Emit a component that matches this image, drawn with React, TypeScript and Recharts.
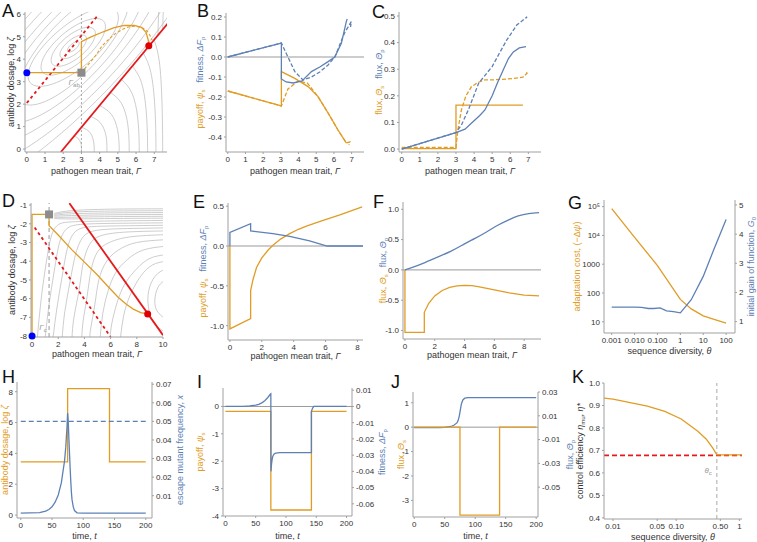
import React from 'react';
import { ComposedChart, Line, XAxis, YAxis, ReferenceLine, ReferenceDot, Label } from 'recharts';

const ORANGE = '#e19c24';
const BLUE = '#5e81b5';
const RED = '#e41a1c';
const FRAME = '#a0a0a0';
const CONTOUR = '#b8b8b8';
const TXT = '#333';
const FONT = '"Liberation Sans", Arial, Helvetica, sans-serif';

// ---------- panel A
const aRed = [[1.87, -0.13], [7.75, 5.6]];
const aRedDash = [[0, 2.05], [3.9, 5.95]];
const aPath = [[0, 3.4], [3, 3.4], [3, 4.78], [3.5, 4.98], [4.2, 5.22], [4.8, 5.4], [5.35, 5.5], [5.9, 5.5], [6.3, 5.42], [6.55, 5.2], [6.67, 4.85], [6.7, 4.62]];
const aPathDash = [[3, 3.4], [3.25, 3.65], [3.6, 3.98], [3.9, 4.3], [4.15, 4.6], [4.5, 4.88], [4.8, 5.1], [5.25, 5.32], [5.7, 5.45], [6.1, 5.45], [6.45, 5.35], [6.7, 5.15], [6.88, 4.85]];
const aLoops = [
  [[2.89, 4.78], [2.7, 4.8], [2.43, 4.67], [2.22, 4.47], [2.21, 4.32], [2.4, 4.3], [2.67, 4.43], [2.88, 4.63]],
  [[3.31, 5.07], [2.89, 5.11], [2.27, 4.82], [1.81, 4.38], [1.79, 4.04], [2.21, 3.99], [2.83, 4.28], [3.29, 4.72]],
  [[3.82, 5.41], [3.12, 5.47], [2.09, 4.99], [1.33, 4.26], [1.28, 3.69], [1.98, 3.63], [3.01, 4.11], [3.77, 4.84]],
  [[4.41, 5.81], [3.41, 5.87], [1.91, 5.16], [0.79, 4.09], [0.69, 3.29], [1.69, 3.23], [3.19, 3.94], [4.31, 5.01]],
  [[5.17, 6.32], [3.8, 6.38], [1.7, 5.37], [0.1, 3.87], [-0.07, 2.78], [1.3, 2.72], [3.4, 3.73], [5.0, 5.23]],
  [[5.71, 7.28], [3.93, 7.12], [1.34, 5.46], [-0.54, 3.26], [-0.61, 1.82], [1.17, 1.98], [3.76, 3.64], [5.64, 5.84]],
  [[6.69, 8.13], [4.42, 7.87], [1.06, 5.67], [-1.43, 2.81], [-1.59, 0.98], [0.68, 1.23], [4.04, 3.43], [6.53, 6.29]],
  [[7.81, 9.1], [5.02, 8.71], [0.78, 5.88], [-2.43, 2.27], [-2.71, 0.0], [0.08, 0.39], [4.32, 3.22], [7.53, 6.83]],
  [[9.13, 10.24], [5.72, 9.69], [0.45, 6.13], [-3.59, 1.64], [-4.03, -1.14], [-0.62, -0.59], [4.65, 2.97], [8.69, 7.46]],
  [[10.63, 11.54], [6.56, 10.78], [0.13, 6.37], [-4.88, 0.89], [-5.53, -2.44], [-1.46, -1.68], [4.97, 2.73], [9.98, 8.21]],
];
const aArcs = [
  [[2.6, 0.58], [2.84, 0.46], [2.97, 0.26], [3.0, 0.06], [3.0, -0.3]],
  [[3.0, 0.97], [3.42, 0.78], [3.64, 0.44], [3.7, 0.1], [3.7, -0.3]],
  [[3.5, 1.46], [4.04, 1.17], [4.33, 0.66], [4.4, 0.15], [4.4, -0.3]],
  [[4.0, 1.94], [4.64, 1.55], [4.98, 0.87], [5.07, 0.19], [5.07, -0.3]],
  [[4.6, 2.52], [5.21, 2.02], [5.54, 1.13], [5.62, 0.25], [5.62, -0.3]],
  [[5.2, 3.1], [5.78, 2.48], [6.09, 1.4], [6.17, 0.31], [6.17, -0.3]],
  [[5.8, 3.69], [6.3, 2.95], [6.56, 1.66], [6.63, 0.37], [6.63, -0.3]],
  [[6.4, 4.27], [6.81, 3.42], [7.03, 1.92], [7.09, 0.43], [7.09, -0.3]],
  [[7.0, 4.85], [7.28, 3.88], [7.42, 2.18], [7.46, 0.49], [7.46, -0.3]],
  [[7.25, 6.2], [7.22, 5.6], [7.2, 5.05]],
  [[7.5, 6.2], [7.48, 5.8], [7.47, 5.33]],
];

// ---------- panel B
const bOrange = [[0, -0.17], [3.03, -0.245], [3.03, -0.073], [3.79, -0.107], [4.54, -0.148], [5.1, -0.198], [5.67, -0.28], [6.23, -0.365], [6.7, -0.43]];
const bOrangeDash = [[0, -0.17], [3.03, -0.245], [3.4, -0.16], [3.96, -0.12], [4.5, -0.13], [5.1, -0.198], [5.67, -0.28], [6.23, -0.365], [6.7, -0.43], [6.9, -0.425], [6.85, -0.44]];
const bBlue = [[0, 0], [3.03, 0.07], [3.03, -0.11], [3.3, -0.125], [3.7, -0.13], [4.2, -0.12], [4.73, -0.073], [5.2, -0.05], [5.67, -0.023], [6.05, 0.0], [6.42, 0.068], [6.7, 0.177], [6.75, 0.19]];
const bBlueDash = [[0, 0], [3.03, 0.07], [3.4, 0.0], [3.79, -0.073], [4.25, -0.115], [4.73, -0.1], [5.2, -0.075], [5.67, -0.04], [6.05, 0.0], [6.6, 0.12], [6.98, 0.177], [6.94, 0.15]];

// ---------- panel C
const cOrange = [[0, 0.002], [3, 0.002], [3, 0.165], [6.7, 0.165]];
const cOrangeDash = [[0, 0.006], [3, 0.006], [3.1, 0.07], [3.3, 0.147], [3.55, 0.2], [3.85, 0.234], [4.2, 0.25], [4.6, 0.26], [5.08, 0.26], [6.17, 0.265], [6.7, 0.27], [6.93, 0.285], [6.8, 0.29]];
const cBlue = [[0, 0], [3, 0.062], [3.5, 0.075], [3.85, 0.097], [4.3, 0.125], [4.6, 0.147], [5, 0.2], [5.3, 0.25], [5.63, 0.3], [5.9, 0.34], [6.17, 0.365], [6.5, 0.38], [6.87, 0.385]];
const cBlueDash = [[0, 0], [3, 0.062], [3.3, 0.09], [3.7, 0.15], [4.25, 0.247], [5, 0.31], [5.4, 0.36], [5.81, 0.41], [6.36, 0.466], [6.93, 0.497], [6.85, 0.49]];

// ---------- panel D
const dRed = [[2.85, -0.9], [10, -7.95]];
const dRedDash = [[0.2, -2.2], [6.0, -8.05]];
const dPath = [[0, -8], [0, -1.5], [1.3, -1.5], [1.3, -2.1], [2, -2.6], [3.03, -3.38], [4, -4.05], [4.94, -4.7], [5.8, -5.35], [6.59, -5.94], [7.2, -6.3], [7.73, -6.56], [8.3, -6.75], [8.83, -6.82]];
const dLines = [
  [[10.2, -1.2], [6, -1.22], [3, -1.3], [1.7, -1.45]],
  [[10.2, -1.3], [6, -1.32], [3, -1.38], [1.7, -1.5]],
  [[10.2, -1.4], [6, -1.42], [3, -1.47], [1.7, -1.55]],
  [[10.2, -1.5], [6, -1.52], [3, -1.56], [1.7, -1.6]],
  [[10.2, -1.6], [6, -1.62], [3, -1.65], [1.7, -1.66]],
  [[10.2, -1.7], [6, -1.72], [3, -1.74], [1.7, -1.72]],
  [[10.2, -1.82], [6, -1.85], [3, -1.9], [2, -2.05], [1.5, -2.6], [1.1, -4], [0.7, -6], [0.4, -8.1]],
  [[10.2, -1.95], [6, -1.98], [3.5, -2.05], [2.6, -2.3], [2.1, -3], [1.7, -4.5], [1.3, -6.3], [1.0, -8.1]],
  [[10.2, -2.08], [6, -2.12], [4, -2.2], [3.2, -2.5], [2.7, -3.3], [2.3, -4.8], [1.9, -6.5], [1.6, -8.1]],
  [[10.2, -2.22], [6.5, -2.27], [4.6, -2.4], [3.8, -2.8], [3.3, -3.7], [2.9, -5.1], [2.5, -6.7], [2.3, -8.1]],
  [[10.2, -2.38], [7, -2.45], [5.2, -2.65], [4.4, -3.1], [3.9, -4.1], [3.6, -5.5], [3.2, -7], [3.05, -8.1]],
  [[10.2, -2.58], [7.5, -2.7], [5.9, -3], [5.0, -3.5], [4.5, -4.5], [4.2, -5.9], [3.9, -7.2], [3.8, -8.1]],
  [[10.2, -2.85], [8, -3.0], [6.6, -3.4], [5.7, -4.0], [5.1, -5.0], [4.8, -6.3], [4.5, -7.5], [4.4, -8.1]],
  [[10.2, -3.2], [8.5, -3.4], [7.3, -3.9], [6.4, -4.6], [5.8, -5.6], [5.4, -6.8], [5.2, -8.1]],
  [[10.2, -3.65], [9, -3.85], [8, -4.4], [7.1, -5.2], [6.5, -6.2], [6.1, -7.3], [5.95, -8.1]],
  [[10.2, -4.0], [9.2, -4.2], [8.3, -4.8], [7.5, -5.8], [7.0, -6.9], [6.75, -8.1]],
  [[10.2, -4.4], [9.4, -4.8], [8.9, -5.6], [8.9, -6.5], [9.3, -7.3], [10.2, -7.8]],
  [[10.2, -5.0], [9.7, -5.3], [9.4, -5.9], [9.5, -6.6], [10.2, -7.1]],
];

// ---------- panel E
const eBlue = [[0, 0], [0, 0.17], [1.3, 0.28], [1.3, 0.19], [2.7, 0.155], [3.75, 0.12], [5, 0.065], [6.1, 0.0], [8.35, 0.0]];
const eOrange = [[0, 0], [0, -1.04], [1.3, -0.91], [1.3, -0.56], [1.45, -0.42], [1.67, -0.27], [2, -0.15], [2.4, -0.05], [2.7, 0.01], [3.2, 0.09], [3.75, 0.155], [4.3, 0.21], [4.8, 0.25], [5.8, 0.32], [6.9, 0.39], [8.3, 0.49]];

// ---------- panel F
const fBlue = [[0, 0], [0.5, 0.04], [1.34, 0.12], [2, 0.19], [3.1, 0.31], [4, 0.43], [4.7, 0.52], [5.5, 0.63], [6.26, 0.74], [7, 0.83], [7.6, 0.89], [8.3, 0.93], [9, 0.945]];
const fOrange = [[0, 0], [0, -1.03], [1.3, -1.03], [1.3, -0.7], [1.6, -0.55], [2, -0.43], [2.5, -0.34], [3, -0.29], [3.5, -0.265], [4, -0.255], [4.5, -0.26], [5, -0.28], [6, -0.33], [7, -0.38], [8, -0.415], [9, -0.43]];

// ---------- panel G
const gOrange = [[0.001, 85000], [0.01, 8500], [0.1, 900], [1, 60], [3, 28], [10, 16], [30, 12], [100, 9]];
const gBlue = [[0.001, 1.5], [0.01, 1.5], [0.02, 1.49], [0.04, 1.45], [0.07, 1.45], [0.13, 1.47], [0.25, 1.37], [0.5, 1.34], [1, 1.3], [3, 1.75], [10, 2.55], [30, 3.5], [100, 4.5]];
const gXTicks = [0.001, 0.01, 0.1, 1, 10, 100];
const gXLabels = ['0.001', '0.010', '0.100', '1', '10', '100'];
const gYTicks = [10, 100, 1000, 10000, 100000];
const gYLabels = ['10', '100', '1000', '10⁴', '10⁵'];

// ---------- panel H
const hOrange = [[0, 3.45], [75, 3.45], [75, 8.2], [142, 8.2], [142, 3.45], [200, 3.45]];
const hBlueDash = [[0, 0.05], [200, 0.05]];
const hBlue = [[0, 0.0006], [30, 0.0009], [40, 0.0017], [45, 0.0026], [50, 0.004], [55, 0.0065], [60, 0.0104], [65, 0.017], [68, 0.024], [70, 0.0285], [72, 0.036], [74, 0.047], [75, 0.0545], [76, 0.05], [77, 0.041], [78, 0.033], [79, 0.025], [80, 0.018], [81, 0.012], [82, 0.008], [84, 0.004], [86, 0.002], [90, 0.0008], [100, 0.0006], [200, 0.0006]];

// ---------- panel I
const iOrange = [[0, -0.18], [75, -0.18], [75, -3.78], [142, -3.78], [142, -0.18], [200, -0.18]];
const iBlue = [[0, 0], [30, 0.0001], [40, 0.0003], [50, 0.0008], [55, 0.0013], [60, 0.0022], [65, 0.0035], [70, 0.0055], [74, 0.0075], [75, 0.0078], [75.2, -0.04], [76, -0.036], [77, -0.033], [78, -0.031], [80, -0.0295], [83, -0.0288], [90, -0.0285], [142, -0.0285], [142, -0.003], [144, -0.001], [146, 0], [200, 0]];

// ---------- panel J
const jOrange = [[0, 0], [75, 0], [75, -3.6], [140, -3.6], [140, 0], [200, 0]];
const jBlue = [[0, 0], [40, 0.0001], [50, 0.0003], [55, 0.0006], [60, 0.001], [65, 0.002], [70, 0.004], [72, 0.006], [74, 0.01], [75, 0.013], [76, 0.016], [77, 0.019], [78, 0.021], [80, 0.0235], [83, 0.0248], [88, 0.0253], [200, 0.0253]];

// ---------- panel K
const kOrange = [[0.0072, 0.933], [0.01, 0.928], [0.0195, 0.912], [0.035, 0.897], [0.066, 0.874], [0.12, 0.84], [0.22, 0.785], [0.3, 0.75], [0.38, 0.71], [0.44, 0.68], [1.1, 0.68]];
const kXTicks = [0.01, 0.05, 0.1, 0.5, 1];
const kXLabels = ['0.01', '0.05', '0.10', '0.50', '1'];

const pts = (a: number[][]) => a.map(([x, y]) => ({ x, y }));

type Part = { t: string; c?: string; sub?: string; it?: boolean };

function rich(parts: Part[]) {
  const out: React.ReactNode[] = [];
  let pend = 0;
  parts.forEach((p, i) => {
    out.push(
      <tspan key={'t' + i} dy={pend || undefined} fill={p.c || TXT} fontStyle={p.it ? 'italic' : 'normal'}>{p.t}</tspan>
    );
    pend = 0;
    if (p.sub) {
      out.push(<tspan key={'s' + i} dy={2} fontSize={6} fill={p.c || TXT}>{p.sub}</tspan>);
      pend = -2;
    }
  });
  return out;
}

const xLab = (parts: Part[], dy: number) => (p: any) => {
  const vb = p.viewBox;
  return (
    <text x={vb.x + vb.width / 2} y={vb.y + dy} textAnchor="middle" fontSize={9} fontFamily={FONT}>{rich(parts)}</text>
  );
};

const yLab = (parts: Part[], dist: number, side: 'left' | 'right') => (p: any) => {
  const vb = p.viewBox;
  const cx = side === 'left' ? vb.x + vb.width - dist : vb.x + dist;
  const cy = vb.y + vb.height / 2;
  return (
    <text transform={`translate(${cx},${cy}) rotate(-90)`} x={0} y={0} dy="0.35em" textAnchor="middle" fontSize={9} fontFamily={FONT}>{rich(parts)}</text>
  );
};

const ax = {
  type: 'number' as const,
  allowDataOverflow: true,
  stroke: FRAME,
  tickSize: 2,
  tickLine: { stroke: FRAME },
  tick: { fontSize: 8, fill: TXT, fontFamily: FONT },
  interval: 0 as const,
};

const frameTop = <XAxis xAxisId="ft" orientation="top" height={0} type="number" domain={[0, 1]} tick={false} tickLine={false} stroke={FRAME} />;
const frameRight = <YAxis yAxisId="fr" orientation="right" width={0} type="number" domain={[0, 1]} tick={false} tickLine={false} stroke={FRAME} />;

function ln(key: string, data: number[][], color: string, opts: any = {}) {
  return (
    <Line key={key} data={pts(data)} dataKey="y" stroke={color} strokeWidth={1.3} dot={false}
      isAnimationActive={false} type="linear" {...opts} />
  );
}

function Panel({ box, padL, padR, dual, children }: any) {
  const [l, t, w, h] = box;
  const padT = 4;
  const padB = 24;
  return (
    <div style={{ position: 'absolute', left: l - padL, top: t - padT }}>
      <ComposedChart width={w + padL + padR} height={h + padT + padB}
        margin={{ top: padT, right: dual ? 0 : padR, bottom: 0, left: 0 }}>
        {children}
      </ComposedChart>
    </div>
  );
}

const square = (p: any) => <rect x={p.cx - 4} y={p.cy - 4} width={8} height={8} fill="#8c8c8c" />;
const tag = (main: string, sub: string) => (p: any) => (
  <text x={p.cx} y={p.cy} textAnchor="middle" fontSize={8} fontFamily={FONT} fill="#999">
    <tspan fontStyle="italic">{main}</tspan><tspan fontSize={6} dy={2}>{sub}</tspan>
  </text>
);

const gammaX: Part[] = [{ t: 'pathogen mean trait, ' }, { t: 'Γ', it: true }];
const doseY: Part[] = [{ t: 'antibody dosage, log ' }, { t: 'ζ', it: true }];
const payFit: Part[] = [
  { t: 'payoff, ', c: ORANGE }, { t: 'ψ', c: ORANGE, it: true, sub: 's' },
  { t: '\u2002 fitness, ', c: BLUE }, { t: 'ΔF', c: BLUE, it: true, sub: 'p' },
];
const fluxes: Part[] = [
  { t: 'flux, ', c: ORANGE }, { t: 'Θ', c: ORANGE, it: true, sub: 's' },
  { t: '\u2002 flux, ', c: BLUE }, { t: 'Θ', c: BLUE, it: true, sub: 'p' },
];
const timeX: Part[] = [{ t: 'time, ' }, { t: 't', it: true }];
const divX: Part[] = [{ t: 'sequence diversity, ' }, { t: 'θ', it: true }];

const letters = [
  ['A', 2, 4], ['B', 197, 4], ['C', 372, 5], ['D', 2, 194], ['E', 193, 195], ['F', 373, 195],
  ['G', 568, 196], ['H', 2, 370], ['I', 197, 375], ['J', 391, 375], ['K', 572, 370],
];

function PanelA() {
  return (
    <Panel box={[25, 12, 142, 140]} padL={26} padR={6}>
      <XAxis dataKey="x" {...ax} domain={[-0.1, 7.7]} ticks={[0, 1, 2, 3, 4, 5, 6, 7]} height={24}>
        <Label content={xLab(gammaX, 22)} />
      </XAxis>
      <YAxis {...ax} domain={[-0.13, 6.1]} ticks={[0, 1, 2, 3, 4, 5, 6]} width={26}>
        <Label content={yLab(doseY, 14, 'left')} />
      </YAxis>
      {frameTop}
      {frameRight}
      {aLoops.map((c, i) => ln('al' + i, c, CONTOUR, { strokeWidth: 0.7, type: 'basisClosed' }))}
      {aArcs.map((c, i) => ln('aa' + i, c, CONTOUR, { strokeWidth: 0.7, type: 'natural' }))}
      <ReferenceLine x={3} stroke="#aaa" strokeDasharray="2 2" />
      {ln('ar', aRed, RED, { strokeWidth: 1.8 })}
      {ln('ard', aRedDash, RED, { strokeWidth: 1.8, strokeDasharray: '3 3' })}
      {ln('apd', aPathDash, ORANGE, { strokeWidth: 1.1, strokeDasharray: '3 2', type: 'natural' })}
      {ln('ap', aPath, ORANGE, { strokeWidth: 1.3 })}
      <ReferenceDot x={0} y={3.4} r={3.5} fill="#0000ff" stroke="none" ifOverflow="visible" />
      <ReferenceDot x={3} y={3.4} r={4} shape={square} ifOverflow="visible" />
      <ReferenceDot x={6.7} y={4.6} r={3.5} fill="#e00000" stroke="none" ifOverflow="visible" />
      <ReferenceDot x={2.6} y={2.85} r={0} shape={tag('Γ', 'ab')} ifOverflow="visible" />
    </Panel>
  );
}

function PanelB() {
  return (
    <Panel box={[226, 13, 138, 139]} padL={30} padR={6}>
      <XAxis dataKey="x" {...ax} domain={[-0.1, 7.7]} ticks={[0, 1, 2, 3, 4, 5, 6, 7]} height={24}>
        <Label content={xLab(gammaX, 22)} />
      </XAxis>
      <YAxis {...ax} domain={[-0.475, 0.22]} ticks={[-0.4, -0.3, -0.2, -0.1, 0, 0.1, 0.2]} tickFormatter={(v: number) => v.toFixed(1)} width={30}>
        <Label content={yLab(payFit, 26, 'left')} />
      </YAxis>
      {frameTop}
      {frameRight}
      <ReferenceLine y={0} stroke="#999" />
      {ln('bod', bOrangeDash, ORANGE, { strokeDasharray: '4 2' })}
      {ln('bo', bOrange, ORANGE)}
      {ln('bbd', bBlueDash, BLUE, { strokeDasharray: '4 2' })}
      {ln('bb', bBlue, BLUE)}
    </Panel>
  );
}

function PanelC() {
  return (
    <Panel box={[399, 12, 142, 140]} padL={26} padR={6}>
      <XAxis dataKey="x" {...ax} domain={[-0.15, 7.7]} ticks={[0, 1, 2, 3, 4, 5, 6, 7]} height={24}>
        <Label content={xLab(gammaX, 22)} />
      </XAxis>
      <YAxis {...ax} domain={[-0.011, 0.515]} ticks={[0, 0.1, 0.2, 0.3, 0.4, 0.5]} tickFormatter={(v: number) => v.toFixed(1)} width={26}>
        <Label content={yLab(fluxes, 20, 'left')} />
      </YAxis>
      {frameTop}
      {frameRight}
      {ln('cod', cOrangeDash, ORANGE, { strokeDasharray: '4 2' })}
      {ln('co', cOrange, ORANGE)}
      {ln('cbd', cBlueDash, BLUE, { strokeDasharray: '4 2' })}
      {ln('cb', cBlue, BLUE)}
    </Panel>
  );
}

function PanelD() {
  return (
    <Panel box={[31, 203, 132, 134]} padL={30} padR={6}>
      <XAxis dataKey="x" {...ax} domain={[-0.08, 10]} ticks={[0, 2, 4, 6, 8, 10]} height={24}>
        <Label content={xLab(gammaX, 20)} />
      </XAxis>
      <YAxis {...ax} domain={[-8.05, -0.89]} ticks={[-8, -7, -6, -5, -4, -3, -2, -1]} width={30}>
        <Label content={yLab(doseY, 19, 'left')} />
      </YAxis>
      {frameTop}
      {frameRight}
      {dLines.map((c, i) => ln('dl' + i, c, CONTOUR, { strokeWidth: 0.7, type: 'natural' }))}
      <ReferenceLine x={1.3} stroke="#999" strokeDasharray="4 3" />
      {ln('dr', dRed, RED, { strokeWidth: 1.8 })}
      {ln('drd', dRedDash, RED, { strokeWidth: 1.8, strokeDasharray: '3 3' })}
      {ln('dp', dPath, ORANGE)}
      <ReferenceDot x={0} y={-8} r={3.5} fill="#0000ff" stroke="none" ifOverflow="visible" />
      <ReferenceDot x={1.3} y={-1.5} r={4} shape={square} ifOverflow="visible" />
      <ReferenceDot x={8.83} y={-6.82} r={3.5} fill="#e00000" stroke="none" ifOverflow="visible" />
      <ReferenceDot x={0.84} y={-7.65} r={0} shape={tag('Γ', 'c')} ifOverflow="visible" />
    </Panel>
  );
}

function PanelE() {
  return (
    <Panel box={[228, 203, 135, 137]} padL={32} padR={6}>
      <XAxis dataKey="x" {...ax} domain={[-0.12, 8.35]} ticks={[0, 2, 4, 6, 8]} height={24}>
        <Label content={xLab(gammaX, 19)} />
      </XAxis>
      <YAxis {...ax} domain={[-1.18, 0.54]} ticks={[-1, -0.5, 0, 0.5]} tickFormatter={(v: number) => v.toFixed(1)} width={32}>
        <Label content={yLab(payFit, 25, 'left')} />
      </YAxis>
      {frameTop}
      {frameRight}
      <ReferenceLine y={0} stroke="#999" />
      {ln('eo', eOrange, ORANGE)}
      {ln('eb', eBlue, BLUE)}
    </Panel>
  );
}

function PanelF() {
  return (
    <Panel box={[403, 202, 138, 137]} padL={28} padR={6}>
      <XAxis dataKey="x" {...ax} domain={[-0.13, 9.13]} ticks={[0, 2, 4, 6, 8]} height={24}>
        <Label content={xLab(gammaX, 19)} />
      </XAxis>
      <YAxis {...ax} domain={[-1.14, 1.12]} ticks={[-1, -0.5, 0, 0.5, 1]} tickFormatter={(v: number) => v.toFixed(1)} width={28}>
        <Label content={yLab(fluxes, 20, 'left')} />
      </YAxis>
      {frameTop}
      {frameRight}
      <ReferenceLine y={0} stroke="#999" />
      {ln('fo', fOrange, ORANGE)}
      {ln('fb', fBlue, BLUE, { type: 'natural' })}
    </Panel>
  );
}

function PanelG() {
  return (
    <Panel box={[604, 200, 131, 133]} padL={36} padR={22} dual>
      <XAxis dataKey="x" {...ax} scale="log" domain={[0.00046, 245]} ticks={gXTicks}
        tickFormatter={(v: number) => gXLabels[gXTicks.indexOf(v)] ?? ''} height={24}>
        <Label content={xLab(divX, 21)} />
      </XAxis>
      <YAxis yAxisId="l" {...ax} scale="log" domain={[4.07, 170000]} ticks={gYTicks}
        tickFormatter={(v: number) => gYLabels[gYTicks.indexOf(v)] ?? ''} width={36}>
        <Label content={yLab([{ t: 'adaptation cost, (−Δ', c: ORANGE }, { t: 'ψ', c: ORANGE, it: true }, { t: ')', c: ORANGE }], 27, 'left')} />
      </YAxis>
      <YAxis yAxisId="r" orientation="right" {...ax} domain={[0.61, 5.17]} ticks={[1, 2, 3, 4, 5]} width={22}>
        <Label content={yLab([{ t: 'initial gain of function, ', c: BLUE }, { t: 'G', c: BLUE, it: true, sub: '0' }], 16, 'right')} />
      </YAxis>
      {frameTop}
      {ln('go', gOrange, ORANGE, { yAxisId: 'l' })}
      {ln('gb', gBlue, BLUE, { yAxisId: 'r' })}
    </Panel>
  );
}

function PanelH() {
  return (
    <Panel box={[17, 382, 135, 136]} padL={17} padR={34} dual>
      <XAxis dataKey="x" {...ax} domain={[-6, 210]} ticks={[0, 50, 100, 150, 200]} height={24}>
        <Label content={xLab(timeX, 21)} />
      </XAxis>
      <YAxis yAxisId="l" {...ax} domain={[-0.19, 8.63]} ticks={[0, 2, 4, 6, 8]} width={17}>
        <Label content={yLab([{ t: 'antibody dosage, log ', c: ORANGE }, { t: 'ζ', c: ORANGE, it: true }], 12, 'left')} />
      </YAxis>
      <YAxis yAxisId="r" orientation="right" {...ax} domain={[-0.002, 0.0712]} ticks={[0.01, 0.02, 0.03, 0.04, 0.05, 0.06, 0.07]}
        tickFormatter={(v: number) => v.toFixed(2)} width={34}>
        <Label content={yLab([{ t: 'escape mutant frequency, ', c: BLUE }, { t: 'x', c: BLUE, it: true }], 28, 'right')} />
      </YAxis>
      {frameTop}
      {ln('ho', hOrange, ORANGE, { yAxisId: 'l' })}
      {ln('hbd', hBlueDash, BLUE, { yAxisId: 'r', strokeDasharray: '5 3' })}
      {ln('hb', hBlue, BLUE, { yAxisId: 'r' })}
    </Panel>
  );
}

function PanelI() {
  return (
    <Panel box={[223, 388, 129, 128]} padL={30} padR={38} dual>
      <XAxis dataKey="x" {...ax} domain={[-4, 209]} ticks={[0, 50, 100, 150, 200]} height={24}>
        <Label content={xLab(timeX, 23)} />
      </XAxis>
      <YAxis yAxisId="l" {...ax} domain={[-4.0, 0.674]} ticks={[-4, -3, -2, -1, 0]} width={30}>
        <Label content={yLab([{ t: 'payoff, ', c: ORANGE }, { t: 'ψ', c: ORANGE, it: true, sub: 's' }], 23, 'left')} />
      </YAxis>
      <YAxis yAxisId="r" orientation="right" {...ax} domain={[-0.0675, 0.01136]} ticks={[-0.06, -0.05, -0.04, -0.03, -0.02, -0.01, 0, 0.01]}
        tickFormatter={(v: number) => (v === 0 ? '0' : v.toFixed(2))} width={38}>
        <Label content={yLab([{ t: 'fitness, ', c: BLUE }, { t: 'ΔF', c: BLUE, it: true, sub: 'p' }], 30, 'right')} />
      </YAxis>
      {frameTop}
      <ReferenceLine yAxisId="l" y={0} stroke="#999" />
      {ln('io', iOrange, ORANGE, { yAxisId: 'l' })}
      {ln('ib', iBlue, BLUE, { yAxisId: 'r' })}
    </Panel>
  );
}

function PanelJ() {
  return (
    <Panel box={[413, 392, 125, 125]} padL={16} padR={40} dual>
      <XAxis dataKey="x" {...ax} domain={[-2, 203]} ticks={[0, 50, 100, 150, 200]} height={24}>
        <Label content={xLab(timeX, 22)} />
      </XAxis>
      <YAxis yAxisId="l" {...ax} domain={[-3.68, 1.44]} ticks={[-3, -2, -1, 0, 1]} width={16}>
        <Label content={yLab([{ t: 'flux, ', c: ORANGE }, { t: 'Θ', c: ORANGE, it: true, sub: 's' }], 12, 'left')} />
      </YAxis>
      <YAxis yAxisId="r" orientation="right" {...ax} domain={[-0.0751, 0.03]} ticks={[-0.05, -0.03, -0.01, 0.01, 0.03]}
        tickFormatter={(v: number) => v.toFixed(2)} width={40}>
        <Label content={yLab([{ t: 'flux, ', c: BLUE }, { t: 'Θ', c: BLUE, it: true, sub: 'p' }], 32, 'right')} />
      </YAxis>
      {frameTop}
      <ReferenceLine yAxisId="l" y={0} stroke="#999" />
      {ln('jb', jBlue, BLUE, { yAxisId: 'r' })}
      {ln('jo', jOrange, ORANGE, { yAxisId: 'l' })}
    </Panel>
  );
}

function PanelK() {
  return (
    <Panel box={[604, 383, 138, 136]} padL={30} padR={6}>
      <XAxis dataKey="x" {...ax} scale="log" domain={[0.0072, 1.1]} ticks={kXTicks}
        tickFormatter={(v: number) => kXLabels[kXTicks.indexOf(v)] ?? ''} height={24}>
        <Label content={xLab(divX, 21)} />
      </XAxis>
      <YAxis {...ax} domain={[0.395, 1.0]} ticks={[0.4, 0.5, 0.6, 0.7, 0.8, 0.9, 1.0]} tickFormatter={(v: number) => v.toFixed(1)} width={30}>
        <Label content={yLab([{ t: 'control efficiency ' }, { t: 'η', it: true, sub: 'mu' }, { t: ', ' }, { t: 'η*', it: true }], 24, 'left')} />
      </YAxis>
      {frameTop}
      {frameRight}
      <ReferenceLine x={0.44} stroke="#aaa" strokeDasharray="4 3" />
      <ReferenceLine y={0.678} stroke={RED} strokeWidth={1.8} strokeDasharray="5 3" />
      {ln('ko', kOrange, ORANGE)}
      <ReferenceDot x={0.32} y={0.6} r={0} shape={tag('θ', 'c')} ifOverflow="visible" />
    </Panel>
  );
}

export default function App() {
  return (
    <div style={{ position: 'absolute', left: 0, top: 0, width: 757, height: 542, background: '#fff', overflow: 'hidden', fontFamily: FONT }}>
      {letters.map(([s, x, y]) => (
        <div key={s as string} style={{ position: 'absolute', left: x as number, top: y as number, fontSize: 18, lineHeight: '15px', color: '#111' }}>{s}</div>
      ))}
      <PanelA />
      <PanelB />
      <PanelC />
      <PanelD />
      <PanelE />
      <PanelF />
      <PanelG />
      <PanelH />
      <PanelI />
      <PanelJ />
      <PanelK />
    </div>
  );
}
